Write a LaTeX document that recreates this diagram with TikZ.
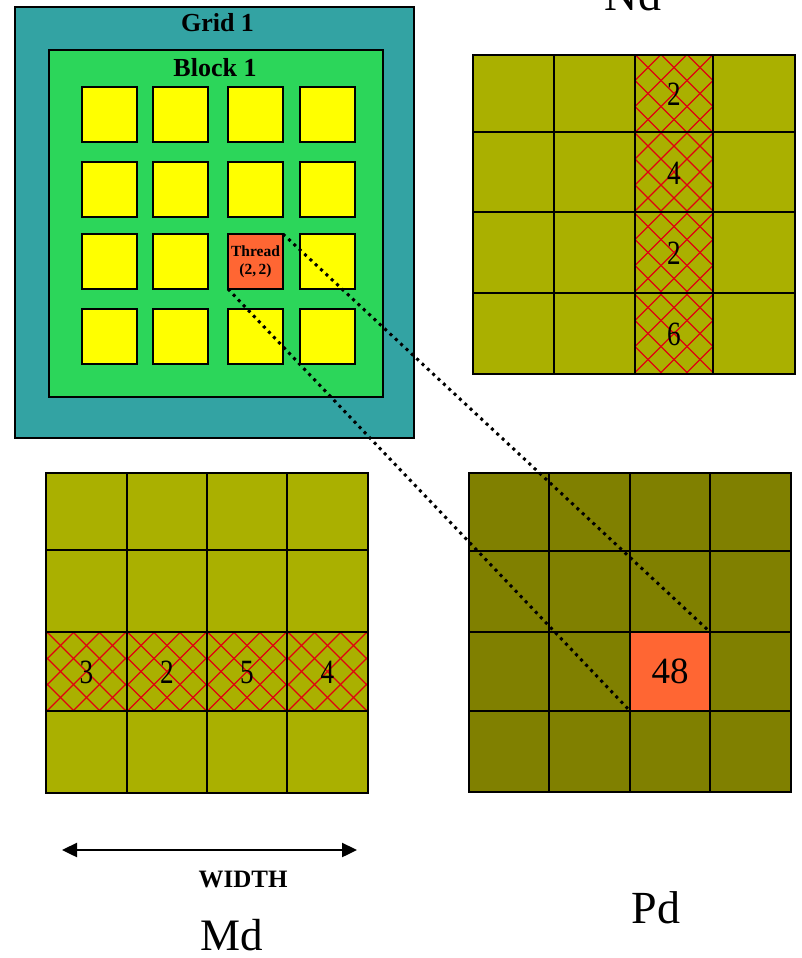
\documentclass[tikz,border=0pt]{standalone}
\usepackage{fontspec}
\setmainfont{Liberation Serif}
\newfontfamily\condserif[FakeStretch=0.8]{Liberation Serif}
\usetikzlibrary{arrows.meta,calc}
\definecolor{gridteal}{HTML}{33A3A3}
\definecolor{blockgreen}{HTML}{2CD65A}
\definecolor{thryellow}{HTML}{FFFF00}
\definecolor{throrange}{HTML}{FF6633}
\definecolor{mdolive}{HTML}{AAB000}
\definecolor{pdolive}{HTML}{808000}
\definecolor{hatchred}{HTML}{E00010}
\tikzset{
  box/.style={draw=black, line width=2.6pt, inner sep=0pt, outer sep=0pt},
  thr/.style={box, fill=thryellow, minimum width=55pt, minimum height=55pt},
  hatchline/.style={draw=hatchred, line width=1.1pt},
  digit/.style={font=\condserif\fontsize{34}{36}\selectfont, inner sep=0pt},
  biglabel/.style={font=\fontsize{45}{50}\selectfont, inner sep=0pt, anchor=base},
  link/.style={line width=3pt, dash pattern=on 3pt off 4.3pt}
}
\newcommand{\hatchnode}[1]{%
  \begin{scope}
    \clip (#1.south west) rectangle (#1.north east);
    \foreach \k in {-5,...,5} {
      \draw[hatchline] ($(#1.center)+(\k*26-60,-60)$) -- ($(#1.center)+(\k*26+60,60)$);
      \draw[hatchline] ($(#1.center)+(\k*26-60,60)$) -- ($(#1.center)+(\k*26+60,-60)$);
    }
  \end{scope}}
\begin{document}
\begin{tikzpicture}[x=1pt,y=-1pt]
\useasboundingbox (0,0) rectangle (801,958);
% Grid and block
\node[box, fill=gridteal, minimum width=399pt, minimum height=431pt] (grid) at (214.5,222.5) {};
\node[box, fill=blockgreen, minimum width=334pt, minimum height=347pt] (block) at (216,223.5) {};
\node[font=\bfseries\fontsize{26}{28}\selectfont, anchor=base, inner sep=0pt] (gridlbl) at (217.5,32) {Grid 1};
\node[font=\bfseries\fontsize{26}{28}\selectfont, anchor=base, inner sep=0pt] (blocklbl) at (215,76) {Block 1};
% threads
\foreach \cx [count=\i] in {109.5,180.5,255.5,327.5}
  \foreach \cy [count=\j] in {114.5,189.5,261.5,336.5}
    {\node[thr] (t-\i-\j) at (\cx,\cy) {};}
\node[thr, fill=throrange, font=\bfseries\fontsize{15.5}{18}\selectfont, align=center] (thread) at (255.5,261.5) {Thread\\(2,\,2)};
% Nd matrix
\foreach \xa/\xb [count=\i] in {473/554,554/635,635/713,713/795}
  \foreach \ya/\yb [count=\j] in {55/132,132/212,212/293,293/374}
    {\node[box, fill=mdolive, minimum width={(\xb-\xa)*1pt}, minimum height={(\yb-\ya)*1pt}] (nd-\i-\j) at ({(\xa+\xb)/2},{(\ya+\yb)/2}) {};}
\foreach \ya/\yb/\v [count=\j] in {55/132/2,132/212/4,212/293/2,293/374/6}
  {\node[box, draw=none, fill=mdolive, minimum width=78pt, minimum height={(\yb-\ya)*1pt}] (ndh-\j) at (674,{(\ya+\yb)/2}) {};
   \hatchnode{ndh-\j}
   \draw[line width=2.6pt] (ndh-\j.north west) rectangle (ndh-\j.south east);
   \node[digit] (ndv-\j) at ($(ndh-\j.center)+(0,1)$) {\v};}
\node[biglabel, font=\fontsize{46}{50}\selectfont] (ndlbl) at (633,11) {Nd};
% Md matrix
\foreach \xa/\xb [count=\i] in {46/127,127/207,207/287,287/368}
  \foreach \ya/\yb [count=\j] in {473/550,550/632,632/711,711/793}
    {\node[box, fill=mdolive, minimum width={(\xb-\xa)*1pt}, minimum height={(\yb-\ya)*1pt}] (md-\i-\j) at ({(\xa+\xb)/2},{(\ya+\yb)/2}) {};}
\foreach \xa/\xb/\v [count=\i] in {46/127/3,127/207/2,207/287/5,287/368/4}
  {\node[box, draw=none, fill=mdolive, minimum width={(\xb-\xa)*1pt}, minimum height=79pt] (mdh-\i) at ({(\xa+\xb)/2},671.5) {};
   \hatchnode{mdh-\i}
   \draw[line width=2.6pt] (mdh-\i.north west) rectangle (mdh-\i.south east);
   \node[digit] (mdv-\i) at ($(mdh-\i.center)+(0,1)$) {\v};}
\node[biglabel] (mdlbl) at (232,950) {Md};
% Pd matrix
\foreach \xa/\xb [count=\i] in {469/549,549/630,630/710,710/791}
  \foreach \ya/\yb [count=\j] in {473/551,551/632,632/711,711/792}
    {\node[box, fill=pdolive, minimum width={(\xb-\xa)*1pt}, minimum height={(\yb-\ya)*1pt}] (pd-\i-\j) at ({(\xa+\xb)/2},{(\ya+\yb)/2}) {};}
\node[box, fill=throrange, minimum width=80pt, minimum height=79pt, font=\fontsize{37}{40}\selectfont] (pdcell) at (670,671.5) {48};
\node[biglabel, font=\fontsize{46}{50}\selectfont] (pdlbl) at (656,923) {Pd};
% width arrow
\coordinate (wl) at (62,850);
\coordinate (wr) at (357,850);
\draw[line width=2.4pt, {Triangle[length=15pt,width=14pt]}-{Triangle[length=15pt,width=14pt]}] (wl) -- (wr);
\node[font=\bfseries\fontsize{25}{27}\selectfont, anchor=base, inner sep=0pt] (widthlbl) at (243,887) {WIDTH};
% dotted links
\draw[link] (thread.north east) -- (pdcell.north east);
\draw[link] (thread.south west) -- (pdcell.south west);
\end{tikzpicture}
\end{document}
